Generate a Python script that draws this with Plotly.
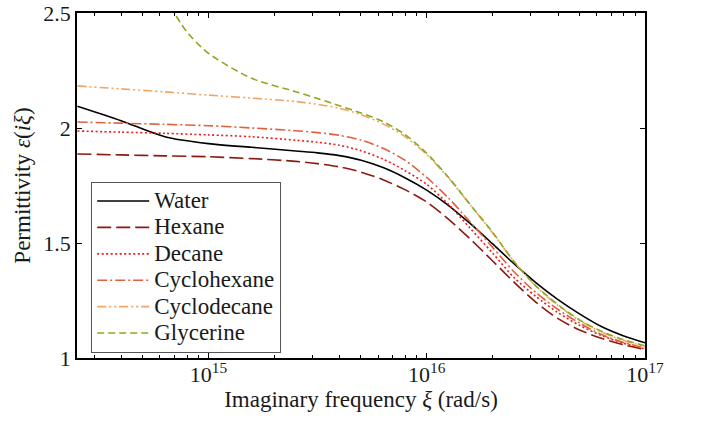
import plotly.graph_objects as go

# Imaginary frequency xi (rad/s)
xi = [2.51e14, 3.98e14, 6.31e14, 1.0e15, 1.58e15, 2.51e15, 3.16e15, 3.98e15,
      5.01e15, 6.31e15, 7.94e15, 1.0e16, 1.26e16, 1.58e16, 2.0e16, 2.51e16,
      3.16e16, 3.98e16, 5.01e16, 6.31e16, 7.94e16, 1.0e17]
xi_gly = [6.31e14, 7.94e14, 1.0e15, 1.58e15, 2.51e15, 3.16e15, 3.98e15,
          5.01e15, 6.31e15, 7.94e15, 1.0e16, 1.26e16, 1.58e16, 2.0e16, 2.51e16,
          3.16e16, 3.98e16, 5.01e16, 6.31e16, 7.94e16, 1.0e17]

water = [2.095, 2.032, 1.962, 1.932, 1.916, 1.900, 1.892, 1.880, 1.860, 1.828, 1.784,
         1.730, 1.663, 1.585, 1.497, 1.410, 1.328, 1.255, 1.192, 1.137, 1.097, 1.066]
hexane = [1.887, 1.883, 1.879, 1.875, 1.867, 1.855, 1.845, 1.831, 1.808, 1.775, 1.732,
          1.678, 1.603, 1.518, 1.423, 1.330, 1.243, 1.172, 1.122, 1.086, 1.058, 1.037]
decane = [1.987, 1.982, 1.977, 1.970, 1.962, 1.947, 1.938, 1.925, 1.901, 1.865, 1.815,
          1.755, 1.667, 1.565, 1.457, 1.350, 1.268, 1.198, 1.142, 1.098, 1.065, 1.040]
cyclohexane = [2.026, 2.021, 2.016, 2.010, 2.000, 1.988, 1.980, 1.968, 1.947, 1.912,
               1.860, 1.785, 1.695, 1.592, 1.482, 1.375, 1.285, 1.212, 1.152, 1.102,
               1.068, 1.043]
cyclodecane = [2.183, 2.170, 2.157, 2.143, 2.130, 2.115, 2.103, 2.086, 2.058, 2.018,
               1.963, 1.885, 1.782, 1.666, 1.545, 1.420, 1.312, 1.230, 1.163, 1.113,
               1.077, 1.050]
glycerine = [2.570, 2.420, 2.325, 2.216, 2.158, 2.128, 2.097, 2.065, 2.028, 1.972,
             1.890, 1.785, 1.668, 1.547, 1.420, 1.314, 1.233, 1.166, 1.116, 1.080, 1.053]

names = ["Water", "Hexane", "Decane", "Cyclohexane", "Cyclodecane", "Glycerine"]
colors = ["#000000", "#8B1A10", "#F01818", "#E2603E", "#F2A462", "#8AAA22"]
dashes = ["solid", "14px,5px", "2px,2.5px", "10px,3px,2px,3px",
          "9px,3px,2px,3px,2px,3px", "7px,4px"]
xs = [xi, xi, xi, xi, xi, xi_gly]
ys = [water, hexane, decane, cyclohexane, cyclodecane, glycerine]

x_ticks = [1e15, 1e16, 1e17]
x_ticktext = ["10<sup>15</sup>", "10<sup>16</sup>", "10<sup>17</sup>"]
y_ticks = [1, 1.5, 2, 2.5]
y_ticktext = ["1", "1.5", "2", "2.5"]

minor_vals = [m * 10 ** e for e in (14, 15, 16) for m in range(2, 10)]

fig = go.Figure()
for n, c, d, x, y in zip(names, colors, dashes, xs, ys):
    fig.add_trace(go.Scatter(
        x=x, y=y, mode="lines",
        name='<span style="font-size:23px">' + n + "</span>",
        line=dict(color=c, dash=d, width=1.6, shape="spline", smoothing=0.8)))

font = "Liberation Serif"
txt = "#1a1a1a"
fig.update_layout(
    width=702, height=422,
    margin=dict(l=77, r=57, t=13, b=64),
    paper_bgcolor="white", plot_bgcolor="white",
    font=dict(family=font, size=22, color=txt),
    showlegend=True,
    legend=dict(x=0.025, y=0.015, xanchor="left", yanchor="bottom",
                bordercolor="#555555", borderwidth=1, bgcolor="white",
                font=dict(family=font, size=18, color=txt),
                tracegroupgap=0, itemwidth=52),
)
fig.update_xaxes(
    type="log", range=[14.398, 17.0], automargin=False,
    tickvals=x_ticks, ticktext=x_ticktext,
    ticks="inside", ticklen=5, tickwidth=1, tickcolor="#000000",
    ticklabelstandoff=-4, ticklabeloverflow="allow",
    showline=True, linecolor="#000000", linewidth=1.5, mirror="allticks",
    showgrid=False, zeroline=False,
    minor=dict(tickvals=minor_vals, ticks="inside", ticklen=3,
               tickcolor="#000000", showgrid=False),
    title=dict(text="Imaginary frequency <i>ξ</i> (rad/s)", standoff=0,
               font=dict(family=font, size=23, color=txt)),
    tickfont=dict(family=font, size=22, color=txt),
)
fig.update_yaxes(
    range=[1, 2.5], automargin=False,
    tickvals=y_ticks, ticktext=y_ticktext,
    ticks="inside", ticklen=5, tickwidth=1, tickcolor="#000000",
    ticklabeloverflow="allow",
    showline=True, linecolor="#000000", linewidth=1.5, mirror="allticks",
    showgrid=False, zeroline=False,
    title=dict(text="Permittivity <i>ε</i>(<i>iξ</i>)", standoff=6,
               font=dict(family=font, size=23, color=txt)),
    tickfont=dict(family=font, size=22, color=txt),
)

fig.write_html("out.html",
               config={"displayModeBar": False},
               post_script="document.body.style.margin='0';"
                           "document.body.style.padding='0';")
